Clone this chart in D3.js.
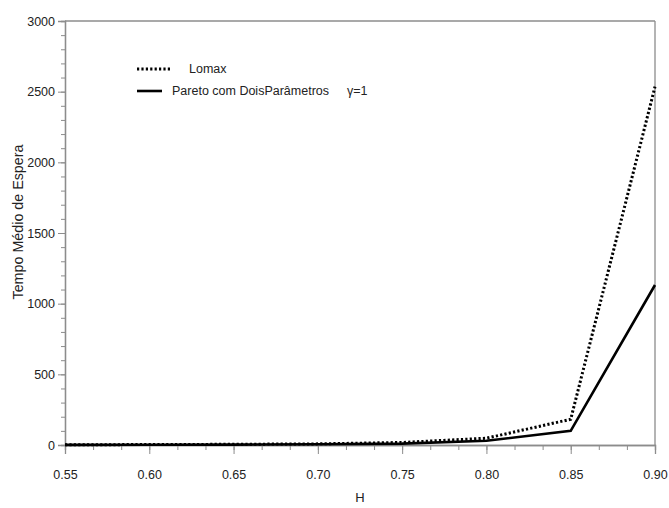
<!DOCTYPE html>
<html>
<head>
<meta charset="utf-8">
<script src="https://cdn.jsdelivr.net/npm/d3@7"></script>
<style>
  html, body { margin: 0; padding: 0; background: #fff; }
  svg { display: block; font-family: "Liberation Sans", Arial, sans-serif; }
</style>
</head>
<body>
<svg id="chart" width="669" height="508"></svg>
<script>
// Mean waiting time vs. Hurst parameter H
const hValues = [0.55, 0.60, 0.65, 0.70, 0.75, 0.80, 0.85, 0.90];
const lomax = [2, 3, 5, 8, 18, 48, 182, 2535];
const pareto = [1, 2, 3, 5, 10, 30, 100, 1132];
const xTicks = [0.55, 0.60, 0.65, 0.70, 0.75, 0.80, 0.85, 0.90];
const yTicks = [0, 500, 1000, 1500, 2000, 2500, 3000];
const legendLabels = ["Lomax", "Pareto com DoisParâmetros"];
const gammaLabel = "\u03B3=1";

const svg = d3.select("#chart");
const m = { left: 65, right: 655, top: 21, bottom: 445 };
const axisColor = "#8c8c8c";

const x = d3.scaleLinear().domain([0.55, 0.90]).range([m.left, m.right]);
const y = d3.scaleLinear().domain([0, 3000]).range([m.bottom, m.top]);

// frame: top and right edges
svg.append("line").attr("x1", m.left).attr("x2", m.right).attr("y1", m.top).attr("y2", m.top)
  .attr("stroke", axisColor).attr("stroke-width", 1.3);
svg.append("line").attr("x1", m.right).attr("x2", m.right).attr("y1", m.top).attr("y2", m.bottom)
  .attr("stroke", axisColor).attr("stroke-width", 1.3);

// minor ticks
const xMinor = d3.range(0, 22).map(i => 0.55 + i * 0.35 / 21);
const yMinor = d3.range(0, 31).map(i => i * 100);

const xAxis = svg.append("g").attr("transform", `translate(0,${m.bottom})`);
xAxis.append("g").call(d3.axisBottom(x).tickValues(xMinor).tickSize(5).tickFormat(""));
xAxis.append("g").call(d3.axisBottom(x).tickValues(xTicks).tickSize(9).tickPadding(16)
  .tickFormat(d3.format(".2f")));

const yAxis = svg.append("g").attr("transform", `translate(${m.left},0)`);
yAxis.append("g").call(d3.axisLeft(y).tickValues(yMinor).tickSize(4).tickFormat(""));
yAxis.append("g").call(d3.axisLeft(y).tickValues(yTicks).tickSize(7).tickPadding(3)
  .tickFormat(d3.format("d")));

svg.selectAll(".domain").attr("stroke", axisColor).attr("stroke-width", 1.3);
svg.selectAll(".tick line").attr("stroke", axisColor).attr("stroke-width", 1);
svg.selectAll(".tick text").attr("fill", "#222").style("font-size", "12.5px")
  .style("font-family", "'Liberation Sans', Arial, sans-serif");

// axis titles
svg.append("text").attr("x", (m.left + m.right) / 2).attr("y", 502)
  .attr("text-anchor", "middle").attr("fill", "#222").style("font-size", "13px").text("H");
svg.append("text").attr("transform", "translate(23,222) rotate(-90)")
  .attr("text-anchor", "middle").attr("fill", "#222").style("font-size", "14.3px")
  .text("Tempo Médio de Espera");

// series
const line = d3.line().x((d, i) => x(hValues[i])).y(d => y(d));
svg.append("path").datum(pareto).attr("d", line).attr("fill", "none")
  .attr("stroke", "#000").attr("stroke-width", 2.6).attr("stroke-linejoin", "miter");
svg.append("path").datum(lomax).attr("d", line).attr("fill", "none")
  .attr("stroke", "#000").attr("stroke-width", 3).attr("stroke-dasharray", "2.2,2.2");

// legend
const lg = svg.append("g");
lg.append("line").attr("x1", 137).attr("x2", 172).attr("y1", 69).attr("y2", 69)
  .attr("stroke", "#000").attr("stroke-width", 3).attr("stroke-dasharray", "2.2,2.2");
lg.append("text").attr("x", 189).attr("y", 73).attr("fill", "#222").style("font-size", "12.5px")
  .text(legendLabels[0]);
lg.append("line").attr("x1", 137).attr("x2", 162).attr("y1", 91).attr("y2", 91)
  .attr("stroke", "#000").attr("stroke-width", 2.6);
lg.append("text").attr("x", 172).attr("y", 95).attr("fill", "#222").style("font-size", "12.5px")
  .text(legendLabels[1]);
lg.append("text").attr("x", 347).attr("y", 95).attr("fill", "#222").style("font-size", "12.5px")
  .text(gammaLabel);
</script>
</body>
</html>
